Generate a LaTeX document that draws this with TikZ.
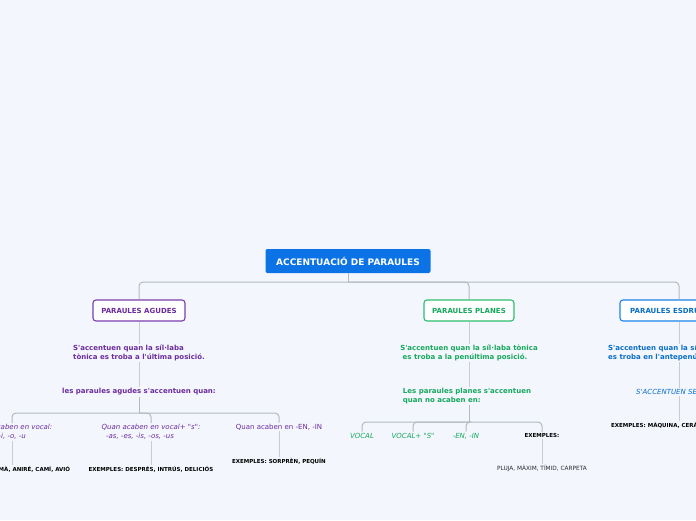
\documentclass[tikz,border=0pt]{standalone}
\usepackage{fontspec}
\setmainfont{DejaVu Sans}[Ligatures=TeXOff]
\definecolor{bg}{RGB}{243,246,253}
\definecolor{rootblue}{RGB}{12,115,230}
\definecolor{purp}{RGB}{108,44,156}
\definecolor{purpb}{RGB}{122,62,174}
\definecolor{grn}{RGB}{22,168,92}
\definecolor{grnb}{RGB}{44,190,110}
\definecolor{blu}{RGB}{10,110,200}
\definecolor{blub}{RGB}{26,132,232}
\definecolor{conn}{RGB}{200,204,214}
\definecolor{conn2}{RGB}{180,184,194}
\definecolor{dark}{RGB}{40,40,40}
\tikzset{
  x=1pt,y=-1pt,
  rootbox/.style={draw=none,fill=rootblue,rounded corners=2pt,minimum width=165pt,minimum height=24pt,text=white,font=\bfseries\fontsize{9}{10}\selectfont,inner sep=0pt},
  mainbox/.style={fill=white,line width=1.1pt,rounded corners=3pt,minimum height=21pt,inner sep=0pt,font=\bfseries\fontsize{7}{8}\selectfont},
  txt/.style={inner sep=1pt,font=\bfseries\fontsize{7}{9}\selectfont},
  itx/.style={inner sep=1pt,font=\itshape\fontsize{7}{9}\selectfont},
  rtx/.style={inner sep=1pt,font=\fontsize{7}{9}\selectfont},
  ex/.style={inner sep=1pt,font=\bfseries\fontsize{5.5}{6.5}\selectfont,text=black},
  exr/.style={inner sep=1pt,font=\fontsize{5.8}{7}\selectfont,text=dark},
  ln/.style={draw=conn,line width=0.9pt},
  br/.style={draw=conn2,line width=1pt,rounded corners=4pt}
}
\begin{document}
\begin{tikzpicture}
\useasboundingbox (0,0) rectangle (696,520);
\fill[bg] (0,0) rectangle (696,520);
\clip (0,0) rectangle (696,520);

% root
\node[rootbox] (root) at (348,261) {ACCENTUACIÓ DE PARAULES};
\node[mainbox,draw=purpb,text=purp,minimum width=92pt] (ag) at (139,310.5) {PARAULES AGUDES};
\node[mainbox,draw=grnb,text=grn,minimum width=90pt] (pl) at (469,310.5) {PARAULES PLANES};
\node[mainbox,draw=blub,text=blu,minimum width=118pt] (es) at (679,310.5) {PARAULES ESDRÚIXOLES};

\coordinate (j0) at (348,282);
\draw[br] (root.south) -- (j0);
\draw[br] (ag.north) |- (j0);
\draw[br] (j0) -| (pl.north);
\draw[br] (j0) -| (es.north);

% AGUDES
\node[txt,text=purp,align=left] (ag1) at (139,353) {S'accentuen quan la síl·laba\\tònica es troba a l'última posició.};
\node[txt,text=purp] (ag2) at (139,392) {les paraules agudes s'accentuen quan:};
\node[itx,text=purp,align=left] (ag3a) at (12,432) {Quan acaben en vocal:\\\ \ -a, -e, -i, -o, -u};
\node[itx,text=purp,align=left] (ag3b) at (151,432) {Quan acaben en vocal+ "s":\\\ \ -as, -es, -is, -os, -us};
\node[rtx,text=purp] (ag3c) at (279,427) {Quan acaben en -EN, -IN};
\node[ex] (ag4a) at (12,469) {EXEMPLES: DEMÀ, ANIRÉ, CAMÍ, AVIÓ};
\node[ex] (ag4b) at (151,469) {EXEMPLES: DESPRÉS, INTRÚS, DELICIÓS};
\node[ex] (ag4c) at (279,461) {EXEMPLES: SORPRÈN, PEQUÍN};

\draw[ln] (ag.south) -- (ag.south |- ag1.north);
\draw[ln] (ag.south |- ag1.south) -- (ag.south |- ag2.north);
\coordinate (j1) at (139,413);
\draw[br] (ag.south |- ag2.south) -- (j1);
\draw[br] (ag3a.north) |- (j1);
\draw[br] (j1) -| (ag3c.north);
\draw[br] (j1) -| (ag3b.north);
\draw[ln] (ag3a.south) -- (ag4a.north);
\draw[ln] (ag3b.south) -- (ag4b.north);
\draw[ln] (ag3c.south) -- (ag4c.north);

% PLANES
\node[txt,text=grn,align=left] (pl1) at (469,353) {S'accentuen quan la síl·laba tònica\\\ es troba a la penúltima posició.};
\node[txt,text=grn,align=left] (pl2) at (467,396) {Les paraules planes s'accentuen\\quan no acaben en:};
\node[itx,text=grn,anchor=base] (pl3a) at (362,438) {VOCAL};
\node[itx,text=grn,anchor=base] (pl3b) at (413,438) {VOCAL+ "S"};
\node[itx,text=grn,anchor=base] (pl3c) at (466,438) {-EN, -IN};
\node[ex,anchor=base] (pl3d) at (542,437.5) {EXEMPLES:};
\node[exr] (pl4) at (542,468) {PLUJA, MÀXIM, TÍMID, CARPETA};

\draw[ln] (pl.south) -- (pl.south |- pl1.north);
\draw[ln] (pl.south |- pl1.south) -- (pl.south |- pl2.north);
\coordinate (j2) at (469,422);
\draw[br] (pl.south |- pl2.south) -- (j2);
\draw[br] (pl3a.north) |- (j2);
\draw[br] (pl3b.north) |- (j2);
\draw[br] (j2) -| (pl3d.north);
\draw[br] (pl3c.north) |- (j2);
\draw[ln] (pl3d.south) -- (pl4.north);

% ESDRUIXOLES
\node[txt,text=blu,align=left,anchor=west] (es1) at (607,353) {S'accentuen quan la síl·laba tònica\\es troba en l'antepenúltima posició.};
\node[itx,text=blu,anchor=west] (es2) at (635,392) {S'ACCENTUEN SEMPRE};
\node[ex,anchor=west] (es3) at (610,425) {EXEMPLES: MÀQUINA, CERÀMICA, PÀGINA};

\draw[ln] (es.south) -- (es.south |- es1.north);
\draw[ln] (es.south |- es1.south) -- (es.south |- es2.north);
\draw[ln] (es.south |- es2.south) -- (es.south |- es3.north);
\end{tikzpicture}
\end{document}
